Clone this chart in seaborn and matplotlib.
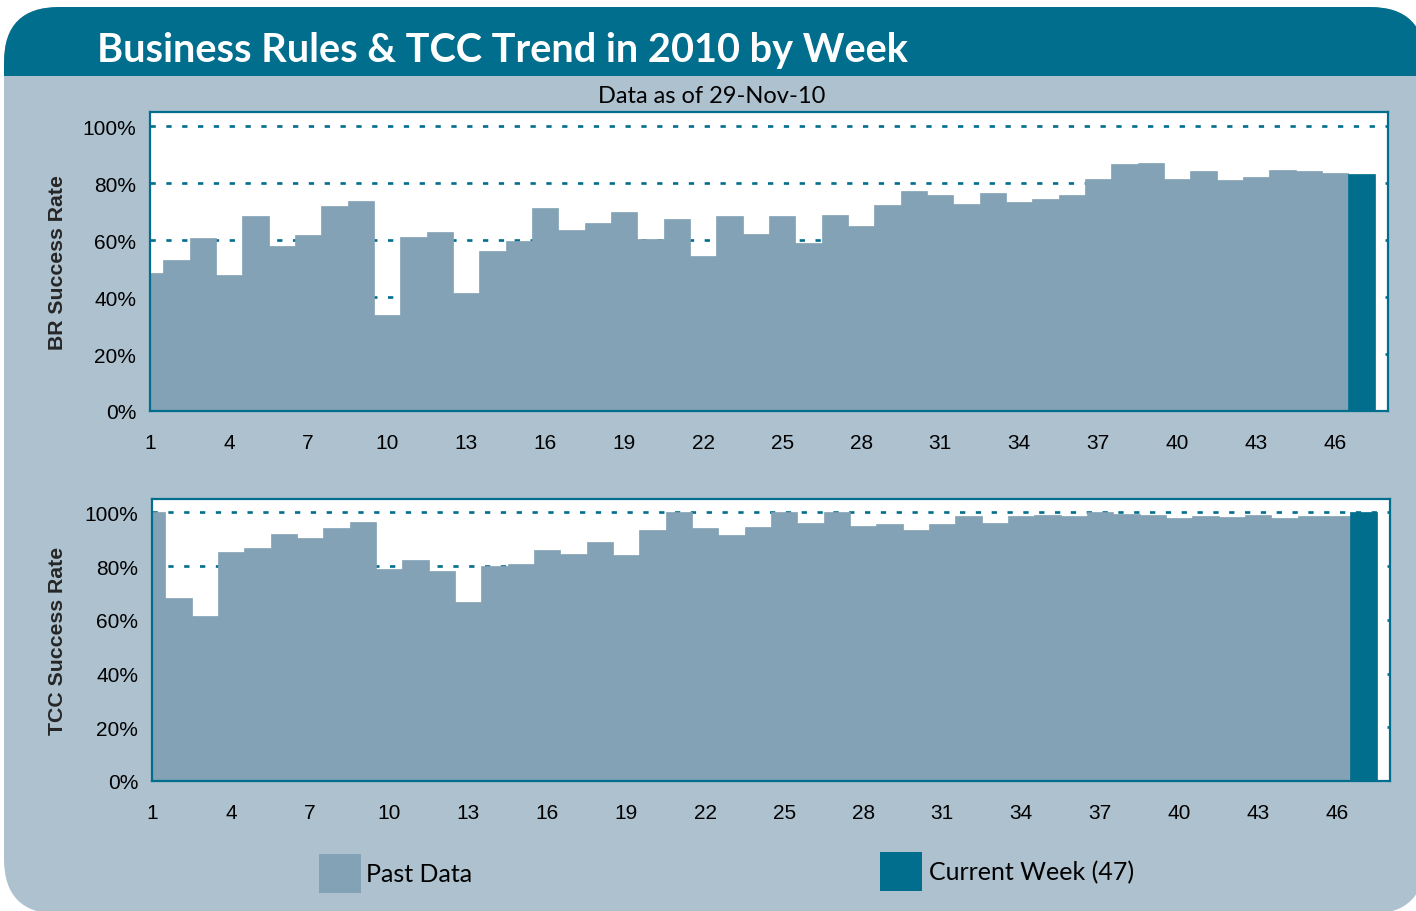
import numpy as np
import pandas as pd
import seaborn as sns
import matplotlib.pyplot as plt
from matplotlib.patches import FancyBboxPatch, Rectangle

# ---------------- data ----------------
weeks = list(range(1, 48))
br_rate = [48.5, 53.0, 60.8, 47.8, 68.5, 58.0, 61.8, 72.0, 73.8, 33.7,
           61.1, 62.9, 41.5, 56.2, 59.7, 71.3, 63.6, 66.0, 69.9, 60.4,
           67.4, 54.4, 68.5, 62.2, 68.5, 59.1, 68.9, 65.0, 72.4, 77.3,
           75.9, 72.7, 76.6, 73.4, 74.5, 75.9, 81.5, 86.8, 87.1, 81.5,
           84.3, 81.1, 82.2, 84.7, 84.3, 83.6, 83.3]
tcc_rate = [100.0, 68.0, 61.6, 85.2, 86.7, 91.9, 90.4, 94.1, 96.4, 78.8,
            82.2, 78.1, 66.5, 80.0, 80.7, 85.9, 84.4, 88.9, 84.1, 93.4,
            100.0, 94.1, 91.5, 94.5, 100.0, 96.0, 100.0, 94.9, 95.6, 93.4,
            95.6, 98.6, 96.0, 98.6, 99.0, 98.6, 100.0, 99.6, 99.0, 97.9,
            98.6, 98.3, 99.0, 97.9, 98.6, 98.6, 100.0]
series_labels = ["Past Data", "Current Week (47)"]
status = [series_labels[0]] * 46 + [series_labels[1]]
x_ticks = list(range(1, 47, 3))
y_ticks = [0, 20, 40, 60, 80, 100]
y_tick_labels = [f"{v}%" for v in y_ticks]
title = "Business Rules & TCC Trend in 2010 by Week"
subtitle = "Data as of 29-Nov-10"
ylabels = ["BR Success Rate", "TCC Success Rate"]

# ---------------- style ----------------
TEAL = "#006e8c"
PAST = "#83a2b5"
BG = "#adc1cf"

sns.set_style("white")
plt.rcParams["font.family"] = ["Liberation Sans", "DejaVu Sans"]

W, H = 1416, 912
fig = plt.figure(figsize=(W / 100, H / 100), dpi=100)
fig.patch.set_facecolor("white")

# card background with rounded corners
card = FancyBboxPatch((0.04, -0.03), 14.21, 9.07,
                      boxstyle="round,pad=0,rounding_size=0.55",
                      transform=fig.dpi_scale_trans, facecolor=BG,
                      edgecolor="none", zorder=-10)
fig.add_artist(card)
header = Rectangle((0.0, (H - 77) / 100), 14.5, 1.0,
                   transform=fig.dpi_scale_trans, facecolor=TEAL,
                   edgecolor="none", zorder=-9)
fig.add_artist(header)
header.set_clip_path(card)

df = pd.DataFrame({"week": weeks, "br": br_rate, "tcc": tcc_rate,
                   "status": status})
palette = {series_labels[0]: PAST, series_labels[1]: TEAL}


def fx(px):
    return px / W


def fy(py):
    return 1 - py / H


axes_boxes = [(150, 1388, 113, 412), (152, 1390, 500, 782)]
cols = ["br", "tcc"]

for (l, r, t, b), col, lab in zip(axes_boxes, cols, ylabels):
    ax = fig.add_axes([fx(l), fy(b), (r - l) / W, (b - t) / H])
    ax.set_facecolor("white")
    sns.barplot(data=df, x="week", y=col, hue="status", palette=palette,
                native_scale=True, width=1, dodge=False, legend=False,
                saturation=1, linewidth=0, ax=ax)
    for p in ax.patches:
        p.set_edgecolor(p.get_facecolor())
        p.set_linewidth(0.5)
    ax.set_xlim(1, 48)
    ax.set_ylim(0, 105)
    ax.set_xticks(x_ticks)
    ax.set_xticklabels([str(v) for v in x_ticks])
    ax.set_yticks(y_ticks)
    ax.set_yticklabels(y_tick_labels)
    ax.set_axisbelow(True)
    ax.yaxis.grid(True, color=TEAL, linestyle=(0, (2, 4)), linewidth=1.9)
    ax.xaxis.grid(False)
    for s in ax.spines.values():
        s.set_visible(True)
        s.set_color(TEAL)
        s.set_linewidth(1.6)
    ax.tick_params(axis="both", which="major", direction="out", length=5,
                   width=1.6, color=TEAL, labelsize=15, labelcolor="black")
    ax.tick_params(axis="x", pad=11)
    ax.tick_params(axis="y", pad=5)
    ax.set_xlabel("")
    ax.set_ylabel(lab, fontsize=15.3, fontweight="bold", va="center")
    ax.yaxis.set_label_coords((57 - l) / (r - l), 0.5)

# titles
fig.text(fx(97), fy(62), title, fontfamily="Lato", fontweight="bold",
         fontsize=28.6, color="white", ha="left", va="baseline")
fig.text(fx(712), fy(103), subtitle, fontfamily="Lato", fontsize=17,
         color="black", ha="center", va="baseline")

# legend
leg_items = [(319, 855, 894, 366, 882, PAST, series_labels[0]),
             (880, 853, 892, 929, 880, TEAL, series_labels[1])]
for x0, y0, y1, tx, ty, c, txt in leg_items:
    fig.add_artist(Rectangle((fx(x0), fy(y1)), 42 / W, (y1 - y0) / H,
                             transform=fig.transFigure, facecolor=c,
                             edgecolor="none"))
    fig.text(fx(tx), fy(ty), txt, fontfamily="Lato", fontsize=18,
             color="black", ha="left", va="baseline")

fig.savefig("out.png", dpi=100, facecolor=fig.get_facecolor())
